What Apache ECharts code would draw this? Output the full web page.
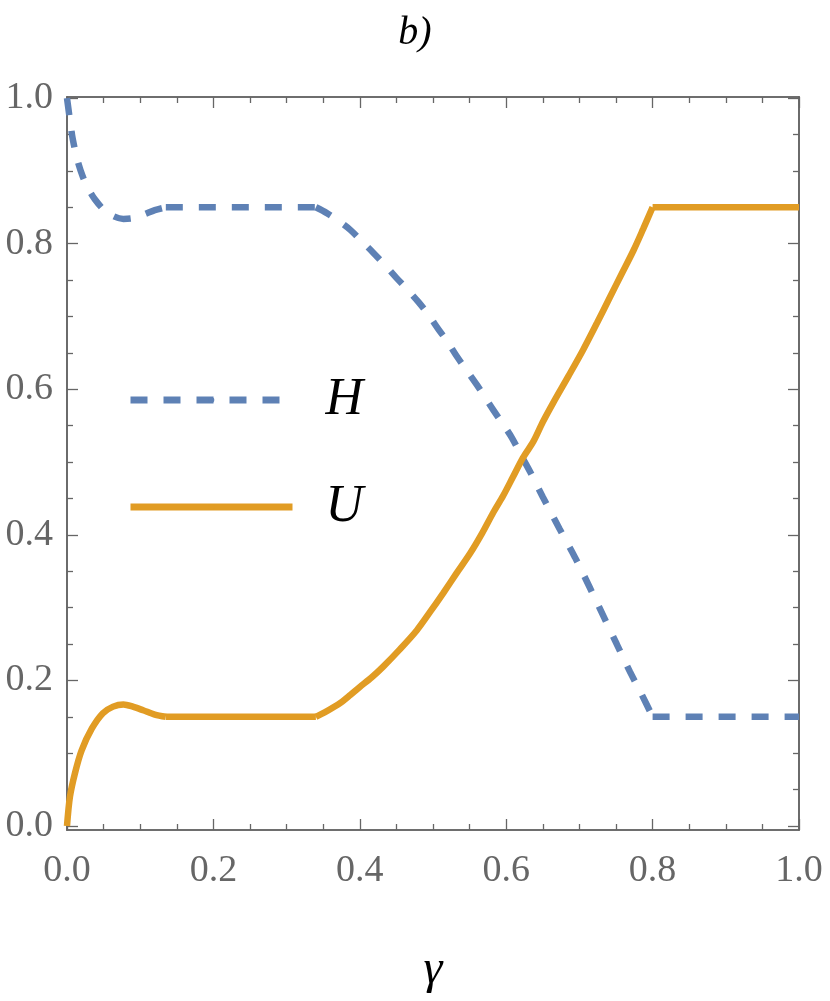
<!DOCTYPE html>
<html>
<head>
<meta charset="utf-8">
<script src="https://cdn.jsdelivr.net/npm/echarts@6/dist/echarts.min.js"></script>
<style>
html,body{margin:0;padding:0;background:#fff}
#c{width:830px;height:1001px}
#fontwarm{position:absolute;left:-9999px;top:0;font-family:'Liberation Serif';font-size:40px}
</style>
</head>
<body>
<div id="fontwarm">0.123456789 b) γ H U <i>b) γ H U 0.2</i></div>
<div id="c"></div>
<script>
// ---- data ----
const seriesNames = ['H', 'U'];
const gammaH = [0, 0.004, 0.008, 0.015, 0.022, 0.03, 0.038, 0.05, 0.063, 0.077, 0.09, 0.105, 0.12, 0.135,
  0.34, 0.355, 0.37, 0.387, 0.402, 0.418, 0.434, 0.45, 0.465, 0.48, 0.494, 0.507, 0.52, 0.532, 0.546, 0.56, 0.571, 0.582, 0.595, 0.608,
  0.62, 0.633, 0.65, 0.673, 0.694, 0.714, 0.733, 0.751, 0.769, 0.785, 0.8, 1.0];
const valuesH = [1.0, 0.97, 0.943, 0.912, 0.891, 0.874, 0.861, 0.847, 0.838, 0.834, 0.835, 0.84, 0.846, 0.85,
  0.85, 0.842, 0.832, 0.819, 0.804, 0.788, 0.771, 0.753, 0.737, 0.72, 0.702, 0.683, 0.665, 0.646, 0.626, 0.606, 0.589, 0.572, 0.553, 0.533,
  0.51, 0.486, 0.452, 0.408, 0.369, 0.328, 0.288, 0.25, 0.212, 0.181, 0.15, 0.15];
const gammaU = [0, 0.004, 0.011, 0.02, 0.034, 0.049, 0.063, 0.077, 0.09, 0.104, 0.12, 0.135,
  0.34, 0.352, 0.364, 0.376, 0.387, 0.4, 0.416, 0.432, 0.455, 0.478, 0.496, 0.514, 0.532, 0.551, 0.567, 0.582, 0.596, 0.609,
  0.623, 0.637, 0.65, 0.664, 0.685, 0.705, 0.724, 0.742, 0.758, 0.774, 0.787, 0.8, 1.0];
const valuesU = [0, 0.04, 0.073, 0.104, 0.134, 0.155, 0.164, 0.167, 0.164, 0.159, 0.153, 0.15,
  0.15, 0.156, 0.163, 0.171, 0.18, 0.191, 0.204, 0.219, 0.243, 0.269, 0.294, 0.32, 0.347, 0.375, 0.402, 0.43, 0.454, 0.479,
  0.506, 0.528, 0.555, 0.581, 0.618, 0.654, 0.691, 0.727, 0.759, 0.791, 0.82, 0.85, 0.85];
const cornerGammas = [0.135, 0.34, 0.8];   // sharp corners of both curves
const majorTicks = [0, 0.2, 0.4, 0.6, 0.8, 1.0];
const minorTicks = [0.05, 0.1, 0.15, 0.25, 0.3, 0.35, 0.45, 0.5, 0.55, 0.65, 0.7, 0.75, 0.85, 0.9, 0.95];
const tickLabels = ['0.0', '0.2', '0.4', '0.6', '0.8', '1.0'];
const titleText = 'b)';
const xName = 'γ';

// ---- chart ----
const axisColor = '#666666';
const FONT = 'Liberation Serif';
const colH = '#5E81B5', colU = '#E19C24';
void document.getElementById('fontwarm').offsetWidth;

function fmt(v) {
  const i = majorTicks.findIndex(t => Math.abs(t - v) < 1e-9);
  return i >= 0 ? tickLabels[i] : '';
}
function mkAxis(dim, pos, major, withLabel) {
  const isY = dim === 'y';
  return {
    type: 'value',
    position: pos,
    min: isY ? -0.0055 : 0,
    max: isY ? 1.0015 : 1,
    splitLine: { show: false },
    axisLine: { show: true, onZero: false, lineStyle: { color: axisColor, width: 1.6 } },
    axisTick: { show: true, inside: true, length: major ? 11 : 6,
      customValues: major ? majorTicks : minorTicks,
      lineStyle: { color: axisColor, width: 1.3 } },
    axisLabel: withLabel ? {
      show: true, customValues: majorTicks, formatter: fmt,
      color: axisColor, fontFamily: FONT, fontSize: 38,
      margin: isY ? 14 : 22
    } : { show: false },
    name: (!isY && withLabel) ? xName : '',
    nameLocation: 'middle',
    nameGap: 116,
    nameTextStyle: { fontFamily: FONT, fontStyle: 'italic', fontSize: 48, color: '#000' }
  };
}
// split a curve at its corner points so the corners stay sharp
function pieces(name, xs, ys, lineStyle) {
  const cuts = [0];
  cornerGammas.forEach(c => {
    const i = xs.findIndex(x => Math.abs(x - c) < 1e-9);
    if (i > 0 && i < xs.length - 1) cuts.push(i);
  });
  cuts.push(xs.length - 1);
  const out = [];
  for (let k = 0; k < cuts.length - 1; k++) {
    const s = cuts[k], e = cuts[k + 1];
    const data = [];
    for (let i = s; i <= e; i++) data.push([xs[i], ys[i]]);
    out.push({
      name: name, type: 'line', xAxisIndex: 0, yAxisIndex: 0,
      data: data, showSymbol: false, symbol: 'none',
      smooth: (e - s) > 1 ? 0.3 : false,
      lineStyle: lineStyle, itemStyle: { color: lineStyle.color }
    });
  }
  return out;
}
const option = {
  animation: false,
  backgroundColor: '#fff',
  textStyle: { fontFamily: FONT },
  title: {
    text: titleText, left: 'center', top: 8,
    textStyle: { fontFamily: FONT, fontStyle: 'italic', fontWeight: 'normal', fontSize: 40, color: '#000' }
  },
  grid: { left: 67, right: 31, top: 97, bottom: 171, containLabel: false },
  xAxis: [mkAxis('x', 'bottom', true, true), mkAxis('x', 'bottom', false, false),
          mkAxis('x', 'top', true, false), mkAxis('x', 'top', false, false)],
  yAxis: [mkAxis('y', 'left', true, true), mkAxis('y', 'left', false, false),
          mkAxis('y', 'right', true, false), mkAxis('y', 'right', false, false)],
  legend: {
    orient: 'vertical', left: 127, top: 374, padding: 0,
    itemWidth: 162, itemHeight: 7, itemGap: 55,
    data: [
      { name: seriesNames[0], lineStyle: { width: 7, type: [17, 16], color: colH }, itemStyle: { color: colH } },
      { name: seriesNames[1], lineStyle: { width: 7, color: colU }, itemStyle: { color: colU } }
    ],
    textStyle: { fontFamily: FONT, fontStyle: 'italic', fontSize: 52, lineHeight: 52, color: '#000', padding: [0, 0, 0, 28] }
  },
  series: [].concat(
    pieces(seriesNames[0], gammaH, valuesH, { color: colH, width: 6.5, type: [17, 16], cap: 'butt' }),
    pieces(seriesNames[1], gammaU, valuesU, { color: colU, width: 6.5 })
  )
};
const chart = echarts.init(document.getElementById('c'), null, { renderer: 'canvas' });
chart.setOption(option);
if (document.fonts && document.fonts.load) {
  Promise.all([
    document.fonts.load('38px "Liberation Serif"'),
    document.fonts.load('italic 48px "Liberation Serif"')
  ]).then(() => { chart.setOption(option, true); }).catch(() => {});
}
</script>
</body>
</html>
